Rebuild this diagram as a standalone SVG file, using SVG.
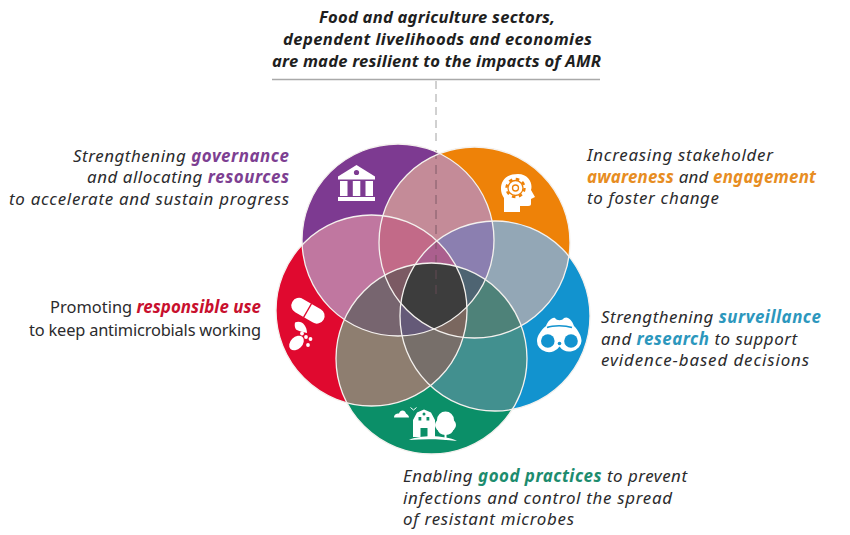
<svg xmlns="http://www.w3.org/2000/svg" width="850" height="535" viewBox="0 0 850 535">
<style>
text{font-family:"Noto Sans","Open Sans","Liberation Sans",sans-serif;font-size:16.9px;font-style:italic;fill:#2b2b2d}
.b{font-weight:700}
.up{font-style:normal;font-size:16.4px}
.t{font-weight:700;font-size:16.6px;fill:#1f1f1f}
.all{x:250px;y:120px;width:360px;height:350px}
.edge{fill:none;stroke:#f4f1ee;stroke-width:1.3}
.w{fill:#fff}
</style>
<defs>
<circle id="cP" cx="398" cy="240" r="96"/>
<circle id="cO" cx="474.5" cy="242.5" r="95.5"/>
<circle id="cB" cx="495" cy="316" r="95"/>
<circle id="cG" cx="431.5" cy="358.5" r="95.5"/>
<circle id="cR" cx="371.5" cy="310.5" r="95.5"/>
<clipPath id="p"><use href="#cP"/></clipPath>
<clipPath id="o"><use href="#cO"/></clipPath>
<clipPath id="b"><use href="#cB"/></clipPath>
<clipPath id="g"><use href="#cG"/></clipPath>
<clipPath id="r"><use href="#cR"/></clipPath>
</defs>
<rect width="850" height="535" fill="#fff"/>

<g id="node-outcome">
<text class="t" x="319" y="23" textLength="236">Food and agriculture sectors,</text>
<text class="t" x="283" y="45" textLength="309">dependent livelihoods and economies</text>
<text class="t" x="272" y="67" textLength="329">are made resilient to the impacts of AMR</text>
<path d="M272 79.500H600" stroke="#a9a9a9" stroke-width="1.500" fill="none"/>
</g>

<g id="node-governance">
<use href="#cP" fill="#7d3a91"/>
<text x="73" y="161.500" textLength="216">Strengthening <tspan class="b" style="fill:#7d3f92">governance</tspan></text>
<text x="87" y="182.500" textLength="202">and allocating <tspan class="b" style="fill:#7d3f92">resources</tspan></text>
<text x="9" y="204.500" textLength="280">to accelerate and sustain progress</text>
</g>
<g id="node-awareness">
<use href="#cO" fill="#ee8208"/>
<text x="587" y="161" textLength="186">Increasing stakeholder</text>
<text x="587" y="183" textLength="229"><tspan class="b" style="fill:#e78d22">awareness</tspan> and <tspan class="b" style="fill:#e78d22">engagement</tspan></text>
<text x="587" y="204" textLength="132">to foster change</text>
</g>
<g id="node-surveillance">
<use href="#cB" fill="#1293cf"/>
<text x="601" y="322.500" textLength="220">Strengthening <tspan class="b" style="fill:#2c97bd">surveillance</tspan></text>
<text x="601" y="344.500" textLength="196">and <tspan class="b" style="fill:#2c97bd">research</tspan> to support</text>
<text x="601" y="366" textLength="208">evidence-based decisions</text>
</g>
<g id="node-practices">
<use href="#cG" fill="#0b8f68"/>
<text x="403" y="482" textLength="284">Enabling <tspan class="b" style="fill:#1d8c6e">good practices</tspan> to prevent</text>
<text x="403" y="503.500" textLength="269">infections and control the spread</text>
<text x="403" y="525" textLength="171">of resistant microbes</text>
</g>
<g id="node-use">
<use href="#cR" fill="#e0092f"/>
<text x="50" y="313" textLength="211"><tspan class="up">Promoting </tspan><tspan class="b" style="fill:#c8102e">responsible use</tspan></text>
<text class="up" x="29" y="335.500" textLength="232">to keep antimicrobials working</text>
</g>

<g id="overlaps">
<g clip-path="url(#p)"><rect class="all" fill="#c48b98" clip-path="url(#o)"/></g>
<g clip-path="url(#o)"><rect class="all" fill="#93a7b6" clip-path="url(#b)"/></g>
<g clip-path="url(#b)"><rect class="all" fill="#42908f" clip-path="url(#g)"/></g>
<g clip-path="url(#g)"><rect class="all" fill="#8e7e70" clip-path="url(#r)"/></g>
<g clip-path="url(#r)"><rect class="all" fill="#c077a0" clip-path="url(#p)"/></g>

<g clip-path="url(#r)"><g clip-path="url(#p)"><rect class="all" fill="#c26a88" clip-path="url(#o)"/></g></g>
<g clip-path="url(#p)"><g clip-path="url(#o)"><rect class="all" fill="#8b7fb0" clip-path="url(#b)"/></g></g>
<g clip-path="url(#o)"><g clip-path="url(#b)"><rect class="all" fill="#4e8279" clip-path="url(#g)"/></g></g>
<g clip-path="url(#b)"><g clip-path="url(#g)"><rect class="all" fill="#776f6a" clip-path="url(#r)"/></g></g>
<g clip-path="url(#g)"><g clip-path="url(#r)"><rect class="all" fill="#77656f" clip-path="url(#p)"/></g></g>

<g clip-path="url(#r)"><g clip-path="url(#p)"><g clip-path="url(#o)"><rect class="all" fill="#ab5f8e" clip-path="url(#b)"/></g></g></g>
<g clip-path="url(#p)"><g clip-path="url(#o)"><g clip-path="url(#b)"><rect class="all" fill="#4e6472" clip-path="url(#g)"/></g></g></g>
<g clip-path="url(#o)"><g clip-path="url(#b)"><g clip-path="url(#g)"><rect class="all" fill="#7a675f" clip-path="url(#r)"/></g></g></g>
<g clip-path="url(#b)"><g clip-path="url(#g)"><g clip-path="url(#r)"><rect class="all" fill="#655a78" clip-path="url(#p)"/></g></g></g>
<g clip-path="url(#g)"><g clip-path="url(#r)"><g clip-path="url(#p)"><rect class="all" fill="#7b5a63" clip-path="url(#o)"/></g></g></g>

<g clip-path="url(#p)"><g clip-path="url(#o)"><g clip-path="url(#b)"><g clip-path="url(#g)"><rect class="all" fill="#3d3d3d" clip-path="url(#r)"/></g></g></g></g>
</g>

<g id="connectors">
<path d="M436 81V146" stroke="#8a8a8a" stroke-width="0.800" stroke-dasharray="8 5" fill="none"/>
<path d="M436 150V294" stroke="#6e4f5c" stroke-width="0.800" stroke-dasharray="9 6" fill="none"/>
</g>

<g id="edges" class="edge">
<use href="#cP"/><use href="#cO"/><use href="#cB"/><use href="#cG"/><use href="#cR"/>
</g>

<g id="icon-bank" class="w">
<path d="M356.500 165L375 176.500V179.500H338V176.500Z"/>
<circle cx="356.500" cy="172.500" r="2.600" fill="#7d3a91"/>
<rect x="340" y="181" width="7.500" height="15"/><rect x="352.800" y="181" width="7.500" height="15"/><rect x="365.500" y="181" width="7.500" height="15"/>
<rect x="338" y="197" width="37" height="4"/>
</g>
<g id="icon-head">
<path d="M504 212V198C498 190 500 174 518 174C529 174 533 184 531 190L535 197L531 199V204C531 206 529 206 526 206H520V212Z" class="w"/>
<circle cx="515.500" cy="188" r="7.500" fill="none" stroke="#ee8208" stroke-width="1.300"/>
<circle cx="515.500" cy="188" r="9" fill="none" stroke="#ee8208" stroke-width="2.400" stroke-dasharray="3.500 3.570"/>
<circle cx="515.500" cy="188" r="3" fill="none" stroke="#ee8208" stroke-width="1.300"/>
</g>
<g id="icon-pills" class="w">
<g transform="rotate(30 308 310.700)">
<rect x="290" y="303" width="36" height="15.500" rx="7.700"/>
<path d="M307.500 302.500V319" stroke="#e0092f" stroke-width="1.300"/>
</g>
<path d="M295 322.500C301 319.500 307 325 307 333C303 332 298 331 296 329.500C294.500 327.500 294.500 324.500 295 322.500Z"/>
<ellipse cx="296.500" cy="343" rx="8.500" ry="6" transform="rotate(-45 296.500 343)"/>
<circle cx="302" cy="333.500" r="1.900"/><circle cx="306" cy="337" r="1.900"/><circle cx="310.500" cy="339" r="1.900"/><circle cx="308" cy="345" r="1.900"/>
</g>
<g id="icon-binoculars">
<path class="w" d="M546 326C548 321 552 317 555 318C557 321 562 321 564 318C568 316 572 320 574 326C578 330 581.500 336 581.500 341A12 11 0 0 1 559.500 346.500A12 11 0 0 1 537 341C537 336 541 330 546 326Z"/>
<circle cx="547.800" cy="341" r="6.800" fill="#1293cf"/>
<circle cx="571" cy="341" r="6.800" fill="#1293cf"/>
<circle cx="559.500" cy="343.500" r="1.800" fill="#1293cf"/>
<path d="M547 327.500C553 325 565 325 572 327.500" fill="none" stroke="#1293cf" stroke-width="1.500"/>
</g>
<g id="icon-farm" class="w">
<path d="M395 418C395 414 399 414 400 414C401 410 406 410 407 414C409 415 410 417 410 418Z" transform="translate(-1 -0.500)"/>
<path d="M410.500 407.500L413.500 410L416.500 407.500" fill="none" stroke="#fff" stroke-width="1"/>
<path d="M413 437V420L417 412.500L424 409.500L431 412.500L435 420V437Z"/>
<rect x="418.500" y="417" width="2.800" height="3.500" fill="#0b8f68"/><rect x="426.500" y="417" width="2.800" height="3.500" fill="#0b8f68"/>
<circle cx="424" cy="414" r="1.500" fill="#0b8f68"/>
<rect x="420.500" y="428" width="7" height="9" fill="#0b8f68"/>
<circle cx="445.500" cy="420" r="8.500"/><circle cx="441" cy="425" r="6"/><circle cx="450" cy="425" r="6"/><ellipse cx="445.500" cy="429" rx="8" ry="6"/>
<rect x="444.500" y="433" width="2" height="7"/>
<path d="M409 440C420 435 445 435 457 441C440 439 425 439 409 440Z"/>
</g>
</svg>
